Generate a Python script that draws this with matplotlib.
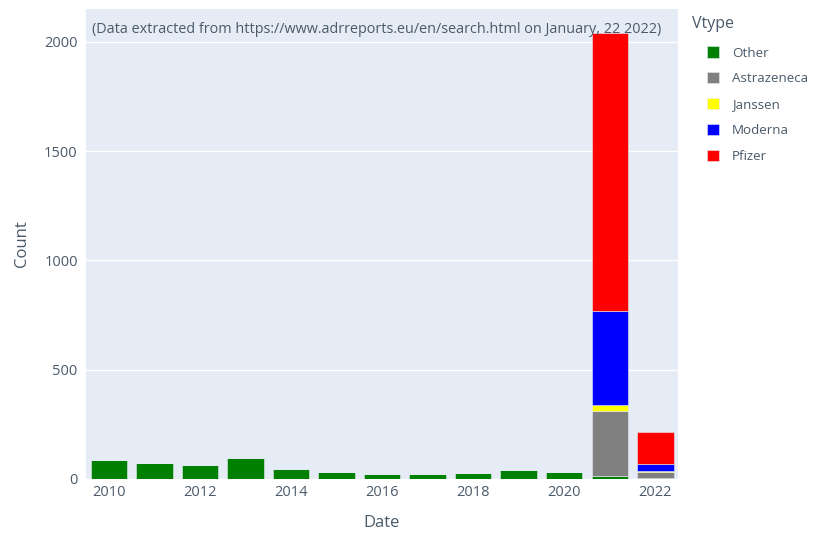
import matplotlib.pyplot as plt
import numpy as np

plt.rcParams['font.family'] = ['Open Sans', 'DejaVu Sans']

# Data
years = [2010, 2011, 2012, 2013, 2014, 2015, 2016, 2017, 2018, 2019, 2020, 2021, 2022]
other = [85, 73, 63, 95, 44, 33, 24, 21, 27, 40, 30, 12, 5]
astrazeneca = [0, 0, 0, 0, 0, 0, 0, 0, 0, 0, 0, 300, 25]
janssen = [0, 0, 0, 0, 0, 0, 0, 0, 0, 0, 0, 27, 5]
moderna = [0, 0, 0, 0, 0, 0, 0, 0, 0, 0, 0, 428, 33]
pfizer = [0, 0, 0, 0, 0, 0, 0, 0, 0, 0, 0, 1275, 149]

series = [('Other', other, '#008000'),
          ('Astrazeneca', astrazeneca, '#808080'),
          ('Janssen', janssen, '#FFFF00'),
          ('Moderna', moderna, '#0000FF'),
          ('Pfizer', pfizer, '#FF0000')]

text_col = '#4a5a6a'

fig = plt.figure(figsize=(8.16, 5.34), dpi=100)
ax = fig.add_axes([0.1054, 0.103, 0.7256, 0.880])
ax.set_facecolor('#E5ECF6')

bottom = np.zeros(len(years))
handles = []
for name, vals, col in series:
    b = ax.bar(years, vals, width=0.8, bottom=bottom, color=col,
               edgecolor='#E5ECF6', linewidth=0.4, label=name, zorder=3)
    bottom += np.array(vals)
    handles.append(b)

ax.set_xlim(2009.5, 2022.5)
ax.set_ylim(0, 2150)
ax.set_yticks([0, 500, 1000, 1500, 2000])
ax.set_xticks([2010, 2012, 2014, 2016, 2018, 2020, 2022])
ax.grid(axis='y', color='white', linewidth=1, zorder=0)
for s in ax.spines.values():
    s.set_visible(False)
ax.tick_params(length=0, labelsize=10.5, colors=text_col, pad=6)
ax.tick_params(axis='x', pad=4)

ax.set_xlabel('Date', fontsize=12, color=text_col, labelpad=11)
ax.set_ylabel('Count', fontsize=12, color=text_col, labelpad=10)

ax.text(0.01, 0.972, '(Data extracted from https://www.adrreports.eu/en/search.html on January, 22 2022)',
        transform=ax.transAxes, ha='left', va='top', fontsize=10.4, color=text_col, zorder=5)

# legend title placed separately, items indented like plotly
fig.text(0.848, 0.955, 'Vtype', ha='left', va='center', fontsize=11.5, color=text_col)
leg = fig.legend(handles=handles, labels=[s[0] for s in series],
                 loc='upper left', bbox_to_anchor=(0.866, 0.913), frameon=False,
                 fontsize=9.6, handlelength=0.9, handleheight=0.9,
                 labelspacing=0.95, handletextpad=1.0, borderaxespad=0,
                 borderpad=0)
for t in leg.get_texts():
    t.set_color(text_col)

fig.savefig('out.png', dpi=100)
